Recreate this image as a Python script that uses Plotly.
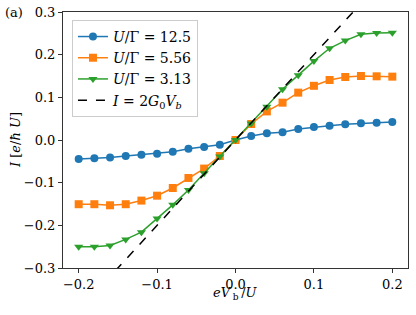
import plotly.graph_objects as go

vb = [-0.2, -0.18, -0.16, -0.14, -0.12, -0.1, -0.08, -0.06, -0.04, -0.02, 0.0,
      0.02, 0.04, 0.06, 0.08, 0.1, 0.12, 0.14, 0.16, 0.18, 0.2]

i_125 = [-0.0445, -0.043, -0.041, -0.0375, -0.0345, -0.032, -0.0275, -0.0205, -0.0165, -0.011, 0.0,
         0.0095, 0.0156, 0.018, 0.0258, 0.0305, 0.0336, 0.0368, 0.039, 0.0405, 0.042]
i_556 = [-0.1505, -0.1505, -0.153, -0.1505, -0.142, -0.1305, -0.1125, -0.089, -0.067, -0.0375, 0.0,
         0.0375, 0.067, 0.0875, 0.111, 0.127, 0.1406, 0.1477, 0.15, 0.1493, 0.1485]
i_313 = [-0.25, -0.25, -0.247, -0.233, -0.216, -0.184, -0.152, -0.117, -0.078, -0.0385, 0.0,
         0.0385, 0.078, 0.119, 0.152, 0.185, 0.215, 0.233, 0.248, 0.251, 0.2515]

line_x = [-0.2, 0.2]
line_y = [2 * v for v in line_x]

names = ["<i>U</i>/Γ = 12.5", "<i>U</i>/Γ = 5.56", "<i>U</i>/Γ = 3.13"]
colors = ["#1f77b4", "#ff7f0e", "#2ca02c"]
symbols = ["circle", "square", "triangle-down"]
series = [i_125, i_556, i_313]

FONT = "DejaVu Serif, Liberation Serif, serif"

fig = go.Figure()
for nm, c, s, ys in zip(names, colors, symbols, series):
    fig.add_trace(go.Scatter(x=vb, y=ys, mode="lines+markers", name=nm,
                             line=dict(color=c, width=1.5),
                             marker=dict(color=c, symbol=s, size=8)))
fig.add_trace(go.Scatter(x=line_x, y=line_y, mode="lines",
                         name="<i>I</i> = 2<i>G</i><sub>0</sub><i>V</i><sub><i>b</i></sub>",
                         line=dict(color="black", width=1.5, dash="dash")))

axis_common = dict(showline=True, linecolor="#333333", linewidth=1, mirror=True,
                   ticks="outside", ticklen=4, tickcolor="#333333", showgrid=False,
                   zeroline=False, automargin=False,
                   tickfont=dict(family=FONT, size=13, color="black"))

fig.update_layout(
    width=416, height=315,
    margin=dict(l=63, r=8, t=12, b=47),
    paper_bgcolor="white", plot_bgcolor="white",
    font=dict(family=FONT, size=13, color="black"),
    showlegend=True,
    legend=dict(x=0.026, y=0.969, xanchor="left", yanchor="top",
                bgcolor="rgba(255,255,255,0.8)", bordercolor="#cccccc", borderwidth=1,
                font=dict(family=FONT, size=14)),
    xaxis=dict(range=[-0.22, 0.22], tickvals=[-0.2, -0.1, 0.0, 0.1, 0.2], tickformat=".1f",
               **axis_common),
    yaxis=dict(range=[-0.3, 0.3], tickvals=[-0.3, -0.2, -0.1, 0.0, 0.1, 0.2, 0.3], tickformat=".1f",
               **axis_common),
)
fig.add_annotation(text="<i>I</i> [<i>e</i>/<i>ħ</i> <i>U</i>]", xref="paper", yref="paper",
                   x=-0.139, y=0.5, xanchor="center", yanchor="middle", textangle=-90,
                   showarrow=False, font=dict(family=FONT, size=13))
fig.add_annotation(text="<i>eV</i>\u2009<sub>b</sub>\u2009/<i>U</i>", xref="paper", yref="paper",
                   x=0.5, y=-0.1, xanchor="center", yanchor="middle", showarrow=False,
                   font=dict(family=FONT, size=13))
fig.add_annotation(text="(a)", xref="paper", yref="paper", x=-0.174, y=1.0,
                   xanchor="left", yanchor="middle", showarrow=False,
                   font=dict(family=FONT, size=13))

fig.write_html("out.html", config={"displayModeBar": False},
               post_script="document.body.style.margin='0';")
